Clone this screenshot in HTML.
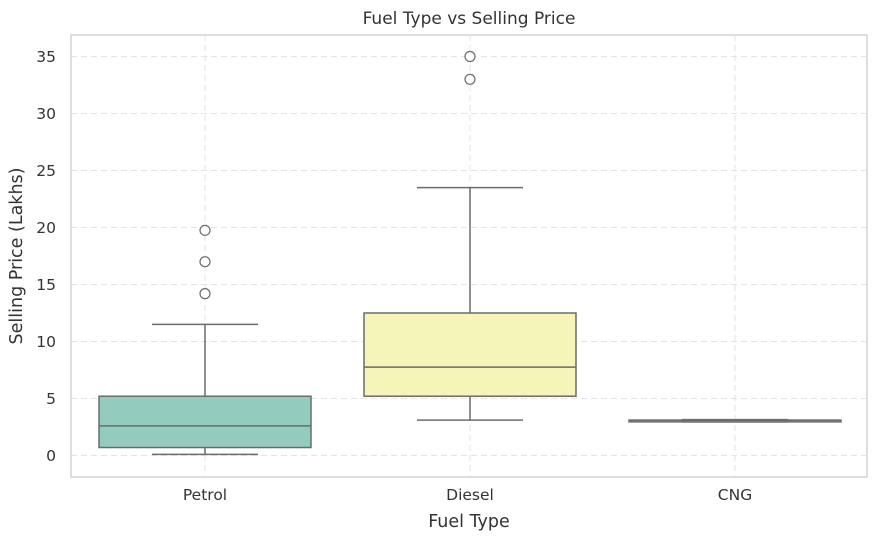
<!DOCTYPE html>
<html><head><meta charset="utf-8"><style>
body{margin:0;background:#fff}
text{font-family:"DejaVu Sans","Liberation Sans",sans-serif;fill:#333}
</style></head><body>
<svg id="c" width="879" height="543" xmlns="http://www.w3.org/2000/svg">
<rect x="71" y="35" width="796" height="442" fill="#fff" stroke="#d3d3d3" stroke-width="1.5"/>
<g id="grid"></g><g id="marks"></g><g id="ticks"></g>
<text x="469" y="24" text-anchor="middle" font-size="17">Fuel Type vs Selling Price</text>
<text x="469" y="527" text-anchor="middle" font-size="17.5">Fuel Type</text>
<text transform="translate(22,256) rotate(-90)" text-anchor="middle" font-size="17.5">Selling Price (Lakhs)</text>
</svg>
<script>
const categories=["Petrol","Diesel","CNG"];
const colors=["#93cbbf","#f6f5b9","#bfbada"];
const whiskLo=[0.1,3.1,2.95];
const q1=[0.7,5.2,2.95];
const median=[2.6,7.75,3.1];
const q3=[5.2,12.5,3.1];
const whiskHi=[11.5,23.5,3.15];
const outliers=[[14.2,17,19.75],[33,35],[]];
const yTicks=[0,5,10,15,20,25,30,35];
const NS="http://www.w3.org/2000/svg";
const y=v=>455.5-v*11.4;
const x=i=>205+i*265;
const bw=212;
function mk(tag,attrs,parent){const e=document.createElementNS(NS,tag);for(const k in attrs)e.setAttribute(k,attrs[k]);document.getElementById(parent).appendChild(e);return e;}
yTicks.forEach(t=>{
 const g=mk('line',{x1:71,x2:867,y1:y(t),y2:y(t),stroke:'#e3e3e3','stroke-dasharray':'6 4'},'grid');
 
 
 const l=mk('text',{x:56,y:y(t)+5.5,'text-anchor':'end','font-size':'15.5'},'ticks');l.textContent=t;
 
 
});
categories.forEach((c,i)=>{
 const g=mk('line',{x1:x(i),x2:x(i),y1:35,y2:477,stroke:'#e3e3e3','stroke-dasharray':'6 4'},'grid');
 
 
 const l=mk('text',{x:x(i),y:500,'text-anchor':'middle','font-size':'15.5'},'ticks');l.textContent=c;
 
 
 const s={stroke:'#6b6b6b','stroke-width':1.5};
 const w1=mk('line',Object.assign({x1:x(i),x2:x(i),y1:y(whiskLo[i]),y2:y(q1[i])},s),'marks');
 
 
 const w2=mk('line',Object.assign({x1:x(i),x2:x(i),y1:y(q3[i]),y2:y(whiskHi[i])},s),'marks');
 
 
 const c1=mk('line',Object.assign({x1:x(i)-53,x2:x(i)+53,y1:y(whiskLo[i]),y2:y(whiskLo[i])},s),'marks');
 
 
 const c2=mk('line',Object.assign({x1:x(i)-53,x2:x(i)+53,y1:y(whiskHi[i]),y2:y(whiskHi[i])},s),'marks');
 
 
 const b=mk('rect',Object.assign({x:x(i)-bw/2,y:y(q3[i]),width:bw,height:Math.max(1,y(q1[i])-y(q3[i])),fill:colors[i]},s),'marks');
 
 
 const m=mk('line',Object.assign({x1:x(i)-bw/2,x2:x(i)+bw/2,y1:y(median[i]),y2:y(median[i])},s),'marks');
 
 
 outliers[i].forEach(o=>{
  const p=mk('circle',{cx:x(i),cy:y(o),r:5,fill:'#fff',stroke:'#6b6b6b','stroke-width':1.2},'marks');
  
  
 });
});
</script>
</body></html>
